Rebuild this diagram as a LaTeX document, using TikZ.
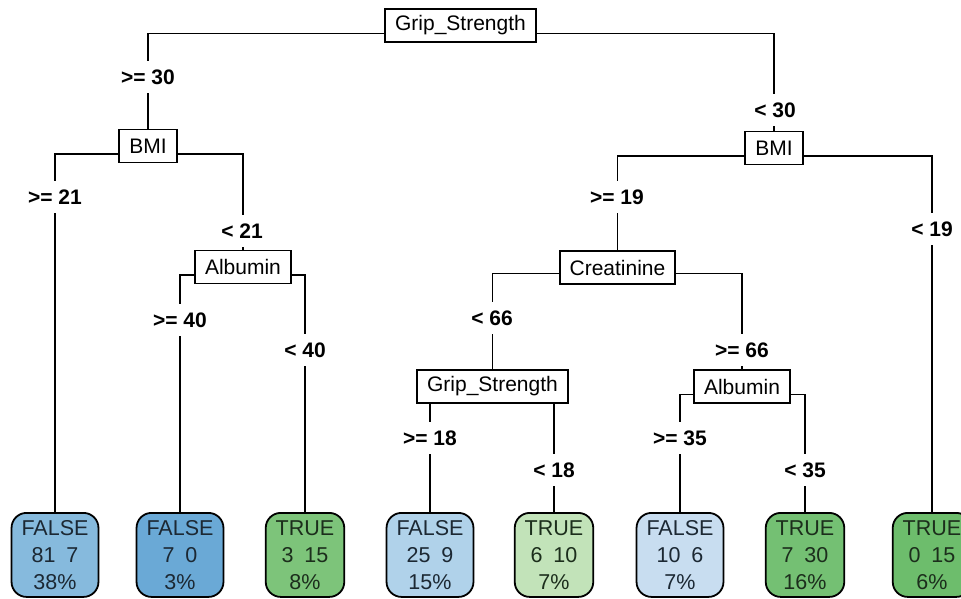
\documentclass[tikz,border=0pt]{standalone}
\usepackage{fontspec}
\setmainfont{Liberation Sans}
\usetikzlibrary{backgrounds}
\definecolor{fA}{HTML}{86BADD}
\definecolor{fB}{HTML}{6AA9D6}
\definecolor{fC}{HTML}{B0D2EA}
\definecolor{fD}{HTML}{C8DDF0}
\definecolor{tA}{HTML}{7DC47A}
\definecolor{tB}{HTML}{C2E3B9}
\definecolor{tC}{HTML}{74C073}
\definecolor{tD}{HTML}{6DBD6C}
\definecolor{ftxt}{HTML}{1C2833}
\definecolor{ttxt}{HTML}{1C2E1C}
\tikzset{
  splitbox/.style={draw=black, line width=1.8pt, fill=white, minimum height=33pt,
    inner xsep=10pt, inner ysep=0pt, font=\fontsize{21}{25}\selectfont},
  leafbox/.style={draw=black, line width=1.8pt, rounded corners=15pt, minimum height=84pt,
    inner xsep=10pt, inner ysep=0pt, align=center, anchor=north,
    font=\fontsize{21.5}{27}\selectfont},
  falseleaf/.style={leafbox, text=ftxt},
  trueleaf/.style={leafbox, text=ttxt},
  cond/.style={fill=white, inner xsep=3pt, inner ysep=0pt, minimum height=32pt,
    font=\fontsize{21}{25}\selectfont\bfseries},
  edge/.style={draw=black, line width=1.8pt},
}
\begin{document}
\begin{tikzpicture}[x=1pt,y=-1pt]
\useasboundingbox (0,0) rectangle (961,598);
\clip (0,0) rectangle (961,598);
% split nodes
\node[splitbox] (root) at (460.5,25.5) {Grip\_Strength};
\node[splitbox] (bmiL) at (148,146) {BMI};
\node[splitbox] (albL) at (243,267) {Albumin};
\node[splitbox] (bmiR) at (774,148) {BMI};
\node[splitbox] (creat) at (617.5,267.5) {Creatinine};
\node[splitbox] (grip2) at (492.5,386.5) {Grip\_Strength};
\node[splitbox] (alb2) at (742,386.5) {Albumin};
% leaves
\node[falseleaf, fill=fA] (l1) at (55,512) {FALSE\\81\enspace 7\\38\%};
\node[falseleaf, fill=fB] (l2) at (180,512) {FALSE\\7\enspace 0\\3\%};
\node[trueleaf, fill=tA] (l3) at (305,512) {TRUE\\3\enspace 15\\8\%};
\node[falseleaf, fill=fC] (l4) at (430,512) {FALSE\\25\enspace 9\\15\%};
\node[trueleaf, fill=tB] (l5) at (554,512) {TRUE\\6\enspace 10\\7\%};
\node[falseleaf, fill=fD] (l6) at (680,512) {FALSE\\10\enspace 6\\7\%};
\node[trueleaf, fill=tC] (l7) at (805,512) {TRUE\\7\enspace 30\\16\%};
\node[trueleaf, fill=tD] (l8) at (932,512) {TRUE\\0\enspace 15\\6\%};
% condition labels
\node[cond] (c1) at (148,77) {>= 30};
\node[cond] (c2) at (775,110) {< 30};
\node[cond] (c3) at (55,197) {>= 21};
\node[cond] (c4) at (242,231) {< 21};
\node[cond] (c5) at (180,320) {>= 40};
\node[cond] (c6) at (305,350) {< 40};
\node[cond] (c7) at (617,197) {>= 19};
\node[cond] (c8) at (932,229) {< 19};
\node[cond] (c9) at (492,318) {< 66};
\node[cond] (c10) at (742,350) {>= 66};
\node[cond] (c11) at (430,438) {>= 18};
\node[cond] (c12) at (554,470) {< 18};
\node[cond] (c13) at (680,438) {>= 35};
\node[cond] (c14) at (805,470) {< 35};
% connectors
\begin{scope}[on background layer]
\draw[edge] ([yshift=-8pt]root.center) -| (bmiL.north);
\draw[edge] ([yshift=-8pt]root.center) -| (bmiR.north);
\draw[edge] ([yshift=-8pt]bmiL.center) -| (l1.north);
\draw[edge] ([yshift=-8pt]bmiL.center) -| (albL.north);
\draw[edge] ([yshift=-8pt]albL.center) -| (l2.north);
\draw[edge] ([yshift=-8pt]albL.center) -| (l3.north);
\draw[edge] ([yshift=-8pt]bmiR.center) -| (creat.north);
\draw[edge] ([yshift=-8pt]bmiR.center) -| (l8.north);
\draw[edge] ([yshift=-6pt]creat.center) -| (grip2.north);
\draw[edge] ([yshift=-6pt]creat.center) -| (alb2.north);
\draw[edge] ([yshift=-8pt]grip2.center) -| (l4.north);
\draw[edge] ([yshift=-8pt]grip2.center) -| (l5.north);
\draw[edge] ([yshift=-8pt]alb2.center) -| (l6.north);
\draw[edge] ([yshift=-8pt]alb2.center) -| (l7.north);
\end{scope}
\end{tikzpicture}
\end{document}
